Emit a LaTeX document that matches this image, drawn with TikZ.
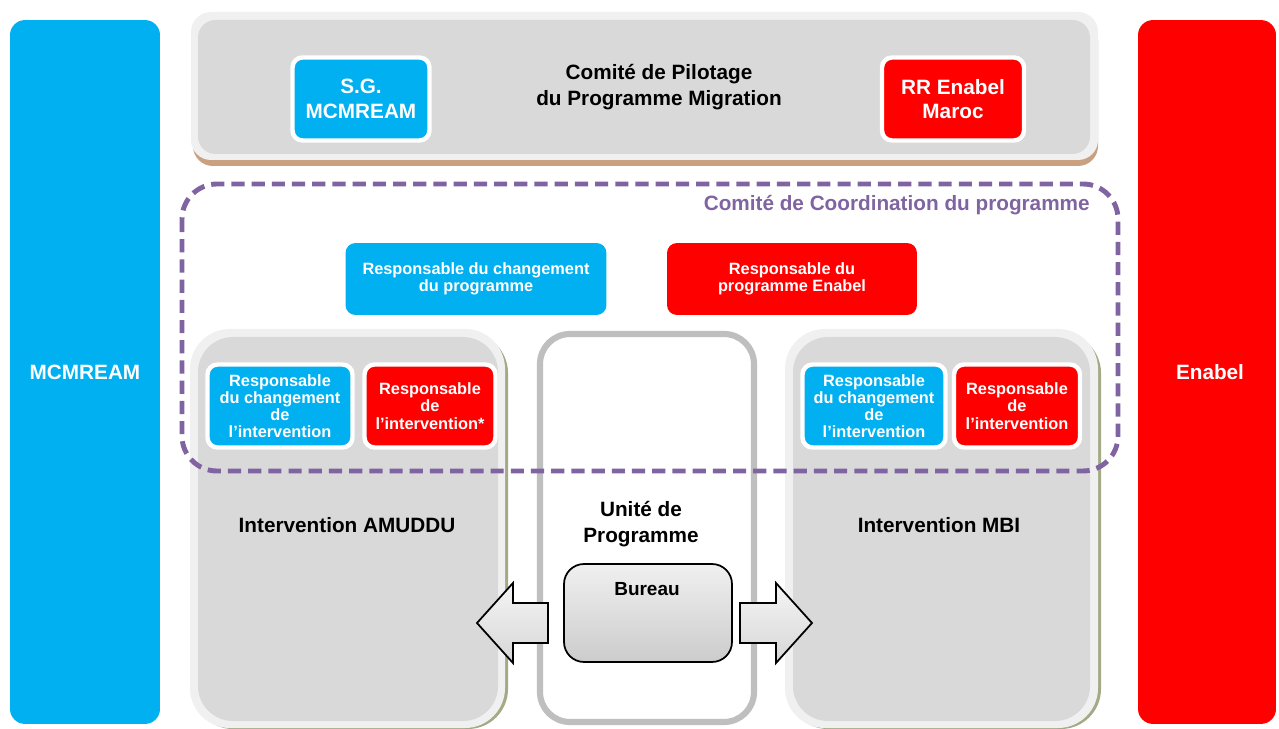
\documentclass[tikz,border=0pt]{standalone}
\usepackage{fontspec}
\setmainfont{Liberation Sans}
\usepackage{tikz}
\definecolor{mblue}{HTML}{00B0F0}
\definecolor{ered}{HTML}{FF0000}
\definecolor{panelgray}{HTML}{D9D9D9}
\definecolor{rimgray}{HTML}{F0F0F0}
\definecolor{coordpurple}{HTML}{8064A2}
\definecolor{shadowtan}{HTML}{C9A080}
\definecolor{rimolive}{HTML}{A3AB86}
\definecolor{unitgray}{HTML}{BFBFBF}

\begin{document}
\begin{tikzpicture}[x=0.02cm,y=-0.02cm,
  heading/.style={font=\bfseries\fontsize{11.8}{14.8}\selectfont,align=center,inner sep=0pt},
  boxtext/.style={font=\bfseries\fontsize{9.3}{9.8}\selectfont,align=center,text=white,inner sep=0pt},
  bar/.style={fill=#1,rounded corners=0.3cm,text=white,font=\bfseries\fontsize{11.8}{14}\selectfont,minimum height=14.08cm},
  tile/.style={fill=#1,draw=white,line width=2.5pt,rounded corners=0.2cm,boxtext},
  plate/.style={fill=#1,rounded corners=0.2cm,boxtext},
  wing/.style={draw=black,line width=1pt,top color=gray!8,bottom color=gray!32}]
\useasboundingbox[fill=white] (0,0) rectangle (1279,729);

\node[bar=mblue,minimum width=3cm] (mcm) at (85,372) {MCMREAM};
\node[bar=ered,minimum width=2.76cm] (enabel) at (1207,372) {\hspace{0.12cm}Enabel};

\fill[shadowtan,rounded corners=0.4cm] (193,20) rectangle (1098,166);
\fill[rimgray,rounded corners=0.4cm] (191,12) rectangle (1098,160);
\fill[panelgray,rounded corners=0.35cm] (198,20) rectangle (1090,154);
\node[heading] (pilot) at (659,87) {Comité de Pilotage\\du Programme Migration};
\node[tile=mblue,minimum width=2.74cm,minimum height=1.66cm,font=\bfseries\fontsize{11.8}{14}\selectfont] (sg) at (361,99) {S.G.\\MCMREAM};
\node[tile=ered,minimum width=2.84cm,minimum height=1.66cm,font=\bfseries\fontsize{11.8}{14}\selectfont] (rr) at (953,99) {RR Enabel\\Maroc};

\begin{scope}
\fill[rimolive,rounded corners=0.8cm] (193,333) rectangle (508,729);
\fill[rimgray,rounded corners=0.8cm] (190,329) rectangle (505,728);
\fill[panelgray,rounded corners=0.7cm] (198,337) rectangle (498,721);
\node[heading] (amuddu) at (347,525) {Intervention AMUDDU};
\end{scope}
\begin{scope}[shift={(595,0)}]
\fill[rimolive,rounded corners=0.8cm] (193,333) rectangle (506,729);
\fill[rimgray,rounded corners=0.8cm] (190,329) rectangle (503,728);
\fill[panelgray,rounded corners=0.7cm] (198,337) rectangle (495,721);
\node[heading] (mbi) at (344,525) {Intervention MBI};
\end{scope}

\draw[unitgray,line width=3.5pt,fill=white,rounded corners=0.6cm] (540,334) rectangle (754,722);
\node[heading] (unite) at (641,524) {Unité de\\Programme};

\draw[wing] (548,603) -- (513,603) -- (513,583) -- (477,623) -- (513,663) -- (513,643) -- (548,643) -- cycle;
\draw[wing] (740,603) -- (776,603) -- (776,583) -- (812,623) -- (776,663) -- (776,643) -- (740,643) -- cycle;
\node[draw=black,line width=1pt,rounded corners=0.4cm,top color=gray!12,bottom color=gray!40,minimum width=3.36cm,minimum height=1.96cm] (bureau) at (648,613) {};
\node[heading,font=\bfseries\fontsize{10.8}{13}\selectfont] (bureaulbl) at (647,589) {Bureau};

\node[plate=mblue,minimum width=5.22cm,minimum height=1.44cm] (chprog) at (476,279) {Responsable du changement\\du programme};
\node[plate=ered,minimum width=5cm,minimum height=1.44cm] (respprog) at (792,279) {Responsable du\\programme Enabel};

\node[tile=mblue,minimum width=2.9cm,minimum height=1.66cm] (chamuddu) at (280,406) {Responsable\\du changement\\de\\l’intervention};
\node[tile=ered,minimum width=2.62cm,minimum height=1.66cm] (respamuddu) at (430,406) {Responsable\\de\\l’intervention*};
\node[tile=mblue,minimum width=2.86cm,minimum height=1.66cm] (chmbi) at (874,406) {Responsable\\du changement\\de\\l’intervention};
\node[tile=ered,minimum width=2.52cm,minimum height=1.66cm] (respmbi) at (1017,406) {Responsable\\de\\l’intervention};

\draw[coordpurple,line width=2.8pt,dash pattern=on 7.5pt off 4pt,rounded corners=0.7cm] (182,184) rectangle (1118,471);
\node[heading,text=coordpurple,anchor=east] (coord) at (1090,205) {Comité de Coordination du programme};
\end{tikzpicture}
\end{document}
